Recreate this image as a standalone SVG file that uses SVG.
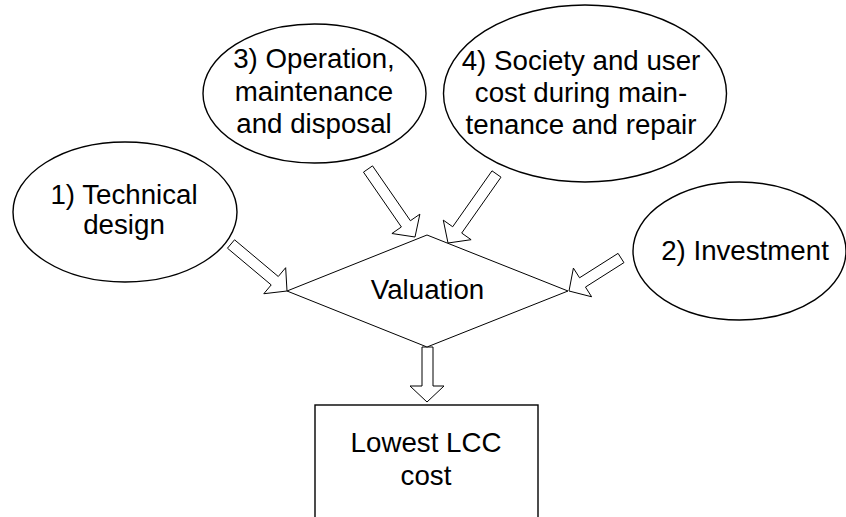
<svg xmlns="http://www.w3.org/2000/svg" width="846" height="517" viewBox="0 0 846 517">
<style>
.shape{fill:#fff;stroke:#000;stroke-width:1.4}
.arrow{fill:#fff;stroke:#000;stroke-width:1}
text{font-family:"Liberation Sans",Arial,sans-serif;font-size:27.7px;fill:#000;text-anchor:middle}
</style>
<rect width="846" height="517" fill="#fff"/>
<g id="connectors">
<polygon class="arrow" points="227.46,248.21 271.2,284.92 263.81,293.73 287,291 285.67,267.69 278.28,276.5 234.54,239.79"/>
<polygon class="arrow" points="363.48,172.13 401.38,226.97 391.92,233.51 415,237 419.88,214.17 410.42,220.71 372.52,165.87"/>
<polygon class="arrow" points="492,170.84 452.7,226.75 443.29,220.13 448,243 471.11,239.69 461.7,233.07 501,177.16"/>
<polygon class="arrow" points="618.05,253.36 579.56,277.79 573.4,268.08 569,291 591.62,296.78 585.46,287.07 623.95,262.64"/>
<polygon class="arrow" points="422,347 422,386 410,386 427,402 444,386 433,386 433,347"/>
</g>
<g id="technical">
<ellipse class="shape" cx="125" cy="212" rx="112" ry="70"/>
<text x="124" y="204">1) Technical</text>
<text x="124" y="234">design</text>
</g>
<g id="operation">
<ellipse class="shape" cx="314.5" cy="93.5" rx="111.5" ry="69.5"/>
<text x="314" y="68">3) Operation,</text>
<text x="314" y="101">maintenance</text>
<text x="314" y="133">and disposal</text>
</g>
<g id="society">
<ellipse class="shape" cx="585" cy="93.5" rx="141.5" ry="88.5"/>
<text x="581" y="70">4) Society and user</text>
<text x="581" y="102">cost during main-</text>
<text x="581" y="134">tenance and repair</text>
</g>
<g id="investment">
<ellipse class="shape" cx="739.5" cy="251" rx="106.5" ry="69"/>
<text x="745" y="260">2) Investment</text>
</g>
<g id="valuation">
<polygon class="arrow" points="427,235 568,291 427,347 287,291"/>
<text x="427.5" y="299">Valuation</text>
</g>
<g id="lowest">
<rect class="shape" x="315" y="405" width="223" height="130"/>
<text x="426" y="452">Lowest LCC</text>
<text x="426" y="485">cost</text>
</g>
</svg>
